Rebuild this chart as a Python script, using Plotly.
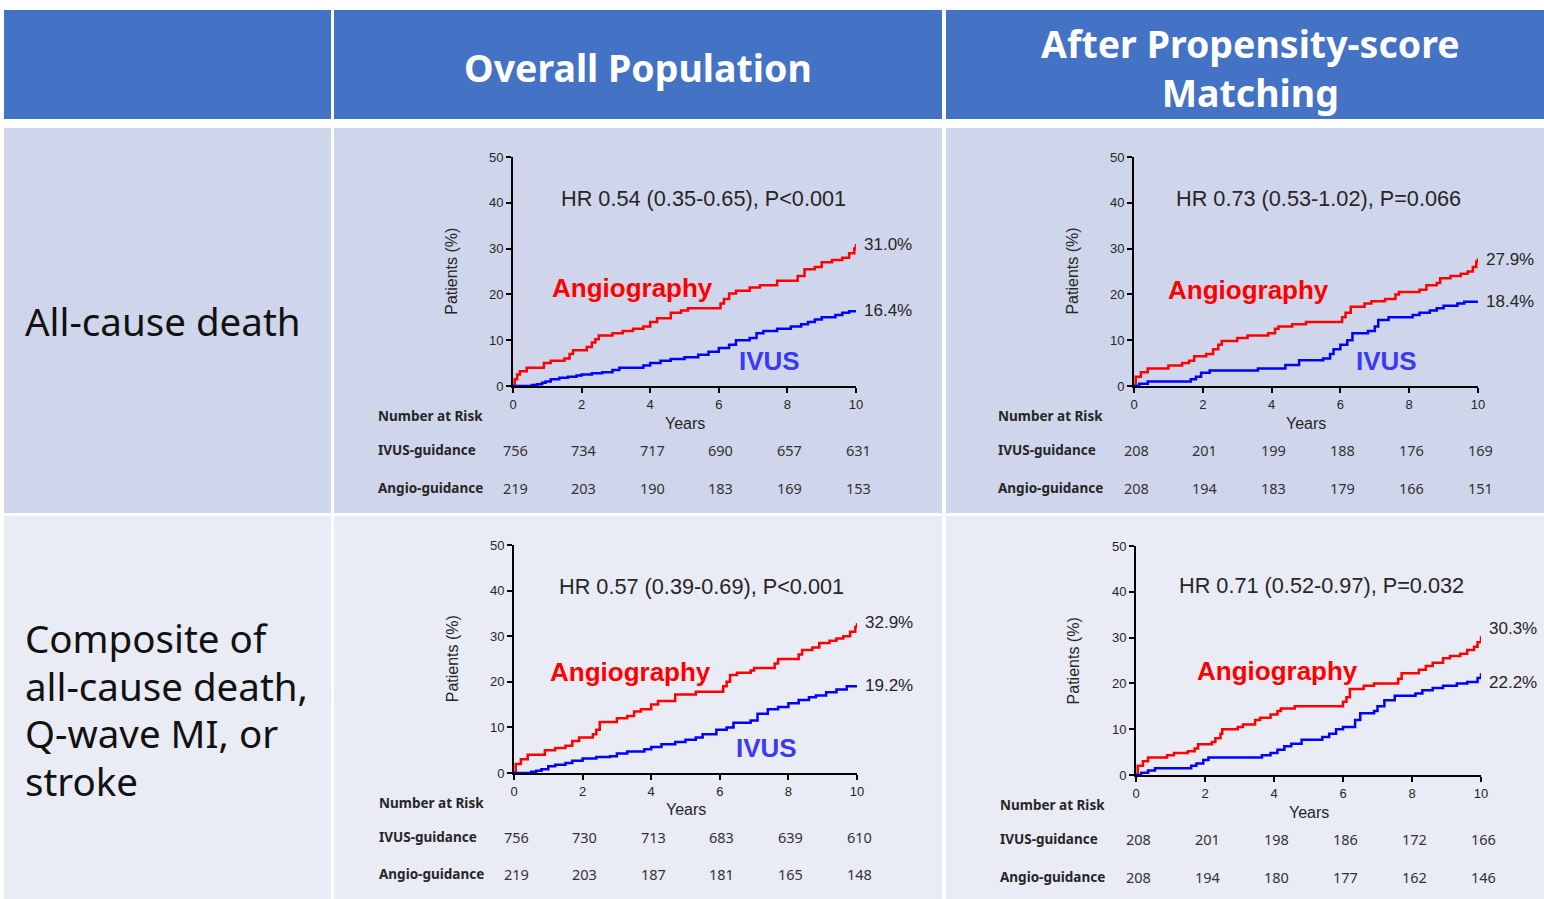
import plotly.graph_objects as go

W, H = 1544, 899

# ---------------- data ----------------
year_ticks = [0, 2, 4, 6, 8, 10]
pct_ticks = [0, 10, 20, 30, 40, 50]

column_titles = ["Overall Population", "After Propensity-score<br>Matching"]
row1_title_lines = ["All-cause death"]
row2_title_lines = ["Composite of", "all-cause death,", "Q-wave MI, or", "stroke"]

hr_texts = [
    "HR 0.54 (0.35-0.65), P<0.001",
    "HR 0.73 (0.53-1.02), P=0.066",
    "HR 0.57 (0.39-0.69), P<0.001",
    "HR 0.71 (0.52-0.97), P=0.032",
]

# cumulative event curves (years, %)
p1_angio_t = [0, 0.05, 0.12, 0.2, 0.4, 0.9, 1.1, 1.5, 1.65, 1.75, 2.15, 2.3, 2.4, 2.5, 2.9, 3.2, 3.5, 3.8, 4.0, 4.2,
              4.6, 4.9, 5.1, 6.05, 6.15, 6.3, 6.5, 6.9, 7.2, 7.7, 8.3, 8.5, 8.8, 9.0, 9.3, 9.6, 9.8, 9.95, 10]
p1_angio_y = [0, 1.5, 2.5, 3.2, 4.0, 5.0, 5.5, 6.0, 7.0, 7.8, 8.5, 9.5, 10.2, 11.0, 11.5, 12.0, 12.5, 13.0, 14.0, 14.8,
              16.0, 16.5, 17.0, 18.0, 19.0, 20.2, 20.8, 21.5, 22.0, 23.0, 24.0, 25.5, 26.0, 27.0, 27.5, 28.0, 29.0, 30.0, 31.0]
p1_ivus_t = [0, 0.55, 0.7, 0.85, 0.95, 1.1, 1.35, 1.6, 1.85, 2.0, 2.3, 2.6, 2.9, 3.1, 3.8, 4.0, 4.3, 4.6, 5.0, 5.4,
             5.7, 6.0, 6.3, 6.5, 6.9, 7.1, 7.3, 7.7, 8.1, 8.4, 8.6, 8.8, 9.0, 9.4, 9.6, 9.8, 10]
p1_ivus_y = [0, 0.2, 0.4, 0.7, 1.0, 1.5, 1.8, 2.0, 2.3, 2.5, 2.8, 3.0, 3.5, 4.0, 4.5, 5.0, 5.5, 5.9, 6.3, 6.8,
             7.5, 8.3, 9.0, 10.0, 10.5, 11.5, 12.0, 12.5, 13.0, 13.5, 14.0, 14.5, 15.0, 15.5, 16.0, 16.3, 16.4]

p2_angio_t = [0, 0.05, 0.2, 0.4, 1.0, 1.4, 1.6, 1.75, 2.1, 2.3, 2.45, 2.55, 3.0, 3.3, 3.9, 4.1, 4.2, 4.6, 5.0, 6.05,
              6.15, 6.3, 6.7, 6.9, 7.3, 7.6, 7.7, 8.3, 8.5, 8.8, 8.9, 9.2, 9.5, 9.7, 9.85, 9.95, 10]
p2_angio_y = [0, 2.0, 3.0, 3.8, 4.5, 5.0, 5.5, 6.5, 7.0, 8.0, 9.0, 9.8, 10.5, 11.0, 11.5, 12.5, 13.0, 13.5, 14.0, 15.0,
              16.0, 17.3, 18.0, 18.5, 19.0, 20.0, 20.5, 21.0, 22.0, 22.5, 23.5, 24.0, 24.5, 25.0, 26.0, 27.2, 27.9]
p2_ivus_t = [0, 0.15, 0.4, 1.65, 1.8, 1.95, 2.2, 3.6, 4.4, 4.8, 5.5, 5.7, 5.8, 6.0, 6.2, 6.35, 6.8, 7.0, 7.1, 7.4,
             8.1, 8.3, 8.6, 8.8, 9.0, 9.4, 9.6, 10]
p2_ivus_y = [0, 0.5, 1.0, 1.5, 2.0, 2.9, 3.4, 3.8, 4.6, 5.6, 6.0, 7.0, 8.0, 9.0, 10.0, 11.5, 12.0, 13.0, 14.4, 15.0,
             15.5, 16.0, 16.5, 17.0, 17.5, 18.0, 18.4, 18.4]

p3_angio_t = [0, 0.05, 0.2, 0.4, 0.9, 1.2, 1.5, 1.7, 1.9, 2.3, 2.4, 2.5, 3.0, 3.3, 3.5, 3.7, 4.0, 4.2, 4.7, 5.3,
              6.1, 6.2, 6.3, 6.5, 6.9, 7.0, 7.6, 7.7, 8.3, 8.4, 8.7, 8.9, 9.2, 9.4, 9.6, 9.8, 9.95, 10]
p3_angio_y = [0, 2.0, 3.0, 4.0, 5.0, 5.5, 6.0, 7.0, 7.8, 8.5, 9.5, 11.2, 12.0, 12.5, 13.5, 14.0, 15.0, 15.8, 17.2, 17.8,
              19.0, 20.0, 21.5, 22.0, 22.5, 23.0, 24.0, 25.0, 26.0, 27.0, 27.5, 28.5, 29.0, 29.5, 30.0, 31.0, 32.0, 32.9]
p3_ivus_t = [0, 0.5, 0.65, 0.8, 1.0, 1.2, 1.5, 1.7, 2.0, 2.4, 2.8, 3.0, 3.3, 3.8, 4.0, 4.3, 4.7, 5.0, 5.3, 5.5,
             5.9, 6.2, 6.4, 6.9, 7.1, 7.4, 7.7, 8.0, 8.3, 8.6, 8.8, 9.1, 9.4, 9.7, 10]
p3_ivus_y = [0, 0.3, 0.5, 0.8, 1.5, 1.8, 2.2, 2.7, 3.2, 3.5, 3.7, 4.3, 4.7, 5.2, 5.7, 6.3, 6.8, 7.3, 7.8, 8.5,
             9.5, 10.0, 11.0, 11.5, 13.0, 14.0, 14.5, 15.3, 16.0, 16.6, 17.0, 17.7, 18.3, 19.0, 19.2]

p4_angio_t = [0, 0.05, 0.2, 0.35, 0.9, 1.1, 1.5, 1.7, 1.8, 2.2, 2.3, 2.45, 2.5, 2.95, 3.1, 3.45, 3.6, 3.9, 4.1, 4.2,
              4.6, 6.0, 6.1, 6.2, 6.6, 6.9, 7.6, 7.7, 8.2, 8.4, 8.6, 8.9, 9.1, 9.4, 9.6, 9.8, 9.9, 10]
p4_angio_y = [0, 2.0, 3.0, 3.8, 4.3, 4.8, 5.2, 5.8, 6.7, 7.2, 8.0, 9.0, 10.0, 10.5, 11.0, 12.0, 12.5, 13.2, 14.0, 14.5,
              15.0, 16.0, 17.0, 18.8, 19.5, 20.0, 21.0, 22.2, 23.0, 23.8, 24.5, 25.5, 26.0, 26.5, 27.3, 28.0, 29.0, 30.3]
p4_ivus_t = [0, 0.15, 0.35, 0.55, 1.6, 1.75, 1.95, 2.1, 3.65, 3.9, 4.1, 4.3, 4.5, 4.8, 5.4, 5.6, 5.8, 6.0, 6.35, 6.5,
             6.9, 7.0, 7.2, 7.5, 8.1, 8.3, 8.6, 8.9, 9.3, 9.6, 9.9, 10]
p4_ivus_y = [0, 0.5, 1.0, 1.5, 2.0, 2.5, 3.3, 3.8, 4.3, 4.8, 5.5, 6.3, 6.8, 7.7, 8.3, 9.0, 10.0, 10.5, 12.0, 13.5,
             14.0, 15.0, 16.3, 17.3, 17.8, 18.5, 19.0, 19.5, 20.0, 20.3, 21.2, 22.2]

# number at risk at 0, 2, 4, 6, 8, 10 years
p1_risk_ivus = [756, 734, 717, 690, 657, 631]
p1_risk_angio = [219, 203, 190, 183, 169, 153]
p2_risk_ivus = [208, 201, 199, 188, 176, 169]
p2_risk_angio = [208, 194, 183, 179, 166, 151]
p3_risk_ivus = [756, 730, 713, 683, 639, 610]
p3_risk_angio = [219, 203, 187, 181, 165, 148]
p4_risk_ivus = [208, 201, 198, 186, 172, 166]
p4_risk_angio = [208, 194, 180, 177, 162, 146]

# ---------------- styling / placement ----------------
BLUE_HDR = "#4472C4"
ROW1_BG = "#CFD5EA"
ROW2_BG = "#E9EBF5"
RED = "#FF0000"
BLUE = "#0000FF"
IVUS_TXT = "#3A3AF2"
TXT = "#262626"
FONT_PLOT = "Liberation Sans"
FONT_SLIDE = "Noto Sans"

panels = [
    dict(curves=(p1_angio_t, p1_angio_y, p1_ivus_t, p1_ivus_y), risk=(p1_risk_ivus, p1_risk_angio),
         px=(513, 856), py=(386, 157), hr=(5.54, 41.0), ang=(3.47, 21.4), ivus=(7.49, 5.5), end_shift=(0, 0)),
    dict(curves=(p2_angio_t, p2_angio_y, p2_ivus_t, p2_ivus_y), risk=(p2_risk_ivus, p2_risk_angio),
         px=(1134, 1478), py=(386, 157), hr=(5.35, 41.0), ang=(3.34, 21.0), ivus=(7.33, 5.5), end_shift=(-1, 0)),
    dict(curves=(p3_angio_t, p3_angio_y, p3_ivus_t, p3_ivus_y), risk=(p3_risk_ivus, p3_risk_angio),
         px=(514, 857), py=(773, 545), hr=(5.48, 41.0), ang=(3.41, 22.1), ivus=(7.35, 5.5), end_shift=(0, 0)),
    dict(curves=(p4_angio_t, p4_angio_y, p4_ivus_t, p4_ivus_y), risk=(p4_risk_ivus, p4_risk_angio),
         px=(1136, 1481), py=(775, 546), hr=(5.39, 41.3), ang=(4.09, 22.7), ivus=None, end_shift=(8, -9)),
]


def fx(px):
    return px / W


def fy(py):
    return 1 - py / H


fig = go.Figure()
layout = dict(
    width=W, height=H, autosize=False,
    margin=dict(l=0, r=0, t=0, b=0, pad=0, autoexpand=False),
    paper_bgcolor="white", plot_bgcolor="rgba(0,0,0,0)",
    showlegend=False,
    shapes=[], annotations=[],
)

# table cells
cells = [
    (4, 10, 331, 119, BLUE_HDR), (334, 10, 942, 119, BLUE_HDR), (946, 10, 1544, 119, BLUE_HDR),
    (4, 128, 331, 513, ROW1_BG), (334, 128, 942, 513, ROW1_BG), (946, 128, 1544, 513, ROW1_BG),
    (4, 516, 331, 899, ROW2_BG), (334, 516, 942, 899, ROW2_BG), (946, 516, 1544, 899, ROW2_BG),
]
for x0, y0, x1, y1, col in cells:
    layout["shapes"].append(dict(type="rect", xref="paper", yref="paper", layer="below",
                                 x0=fx(x0), x1=fx(x1), y0=fy(y1), y1=fy(y0),
                                 fillcolor=col, line=dict(width=0)))

# header titles
for cx, title in zip([638, 1250], column_titles):
    layout["annotations"].append(dict(
        xref="paper", yref="paper", x=fx(cx), y=fy(68), text=title, showarrow=False,
        xanchor="center", yanchor="middle", align="center",
        font=dict(family=FONT_SLIDE, size=37.5, color="white", weight="bold")))

# row titles, one line at a time (48 px line pitch)
LINE_PITCH = 47.7
for cy, lines in ((321, row1_title_lines), (709.5, row2_title_lines)):
    n = len(lines)
    for k, line in enumerate(lines):
        ly = cy + (k - (n - 1) / 2) * LINE_PITCH
        layout["annotations"].append(dict(
            xref="paper", yref="paper", x=fx(23), y=fy(ly), text=line, showarrow=False,
            xanchor="left", yanchor="middle", align="left",
            font=dict(family=FONT_SLIDE, size=38.5, color="#111111")))

for i, p in enumerate(panels, start=1):
    sfx = "" if i == 1 else str(i)
    xa, ya = "x" + sfx, "y" + sfx
    at, ay, it, iy = p["curves"]
    assert len(at) == len(ay) and len(it) == len(iy)

    layout["xaxis" + sfx] = dict(
        domain=[fx(p["px"][0]), fx(p["px"][1])], range=[0, 10], anchor=ya,
        tickvals=year_ticks, ticks="outside", ticklen=5, tickwidth=1.5, tickcolor="black",
        showline=True, linecolor="black", linewidth=2, showgrid=False, zeroline=False,
        automargin=False,
        tickfont=dict(family=FONT_PLOT, size=13, color=TXT), fixedrange=True)
    layout["yaxis" + sfx] = dict(
        domain=[fy(p["py"][0]), fy(p["py"][1])], range=[0, 50], anchor=xa,
        tickvals=pct_ticks, ticks="outside", ticklen=5, tickwidth=1.5, tickcolor="black",
        showline=True, linecolor="black", linewidth=2, showgrid=False, zeroline=False,
        automargin=False,
        tickfont=dict(family=FONT_PLOT, size=13, color=TXT), fixedrange=True)

    fig.add_trace(go.Scatter(x=at, y=ay, mode="lines", line=dict(color=RED, width=2.5, shape="hv"),
                             xaxis=xa, yaxis=ya, hoverinfo="skip"))
    fig.add_trace(go.Scatter(x=it, y=iy, mode="lines", line=dict(color=BLUE, width=2.5, shape="hv"),
                             xaxis=xa, yaxis=ya, hoverinfo="skip"))

    ann = layout["annotations"]
    ann.append(dict(xref=xa, yref=ya, x=p["hr"][0], y=p["hr"][1], text=hr_texts[i - 1].replace("<", "&lt;"),
                    showarrow=False, xanchor="center", yanchor="middle",
                    font=dict(family=FONT_PLOT, size=21.7, color=TXT)))
    ann.append(dict(xref=xa, yref=ya, x=p["ang"][0], y=p["ang"][1], text="Angiography",
                    showarrow=False, xanchor="center", yanchor="middle",
                    font=dict(family=FONT_PLOT, size=26, color=RED, weight="bold")))
    if p["ivus"] is not None:
        ann.append(dict(xref=xa, yref=ya, x=p["ivus"][0], y=p["ivus"][1], text="IVUS",
                        showarrow=False, xanchor="center", yanchor="middle",
                        font=dict(family=FONT_PLOT, size=26, color=IVUS_TXT, weight="bold")))
    # end-of-follow-up rates
    for yy, dy in zip((ay[-1], iy[-1]), p["end_shift"]):
        ann.append(dict(xref=xa, yref=ya, x=at[-1], y=yy, text=f"{yy:.1f}%", showarrow=False,
                        xanchor="left", yanchor="middle", xshift=6, yshift=dy,
                        font=dict(family=FONT_PLOT, size=17, color=TXT)))
    # axis titles
    ann.append(dict(xref=xa + " domain", yref=ya + " domain", x=-0.18, y=0.5, text="Patients (%)",
                    textangle=-90, showarrow=False, xanchor="center", yanchor="middle",
                    font=dict(family=FONT_PLOT, size=16, color=TXT)))
    ann.append(dict(xref=xa + " domain", yref=ya + " domain", x=0.5, y=-0.162, text="Years",
                    showarrow=False, xanchor="center", yanchor="middle",
                    font=dict(family=FONT_PLOT, size=16, color=TXT)))
    # number-at-risk table
    for label, yy in (("Number at Risk", -0.13), ("IVUS-guidance", -0.28), ("Angio-guidance", -0.445)):
        ann.append(dict(xref=xa + " domain", yref=ya + " domain", x=-0.40, y=yy, text=label,
                        showarrow=False, xanchor="left", yanchor="middle",
                        font=dict(family=FONT_SLIDE, size=13.5, color=TXT, weight="bold")))
    for vals, yy in ((p["risk"][0], -0.28), (p["risk"][1], -0.445)):
        for t, v in zip(year_ticks, vals):
            ann.append(dict(xref=xa, yref=ya + " domain", x=t, y=yy, text=str(v), xshift=2,
                            showarrow=False, xanchor="center", yanchor="middle",
                            font=dict(family=FONT_SLIDE, size=14.5, color="#333333")))

fig.update_layout(**layout)
# the figure fills the whole page, so drop the browser's default body margin
fig.write_html("out.html",
               post_script="document.body.style.margin='0';document.body.style.overflow='hidden';")
